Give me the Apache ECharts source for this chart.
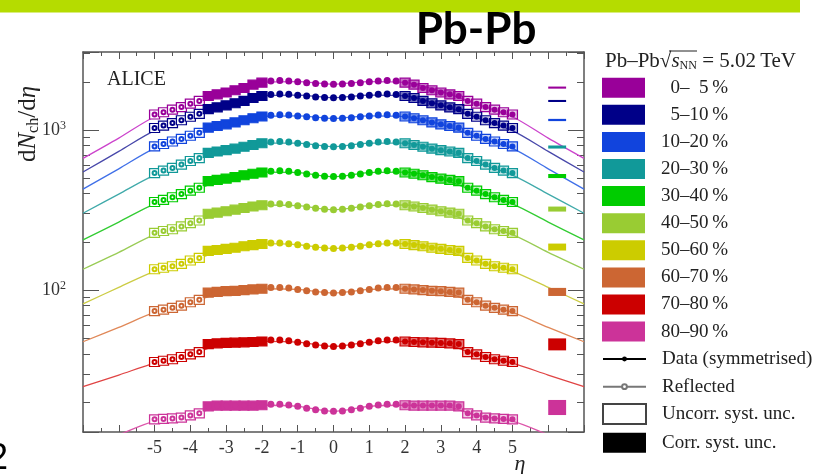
<!DOCTYPE html>
<html><head><meta charset="utf-8">
<script src="https://cdn.jsdelivr.net/npm/echarts@6/dist/echarts.min.js"></script>
<style>html,body{margin:0;padding:0;background:#fff}#c{width:833px;height:474px}</style>
</head><body><div id="c"></div>
<script>
// ---------------- data ----------------
const etaHalf = [0,0.25,0.5,0.75,1,1.25,1.5,1.75,2,2.25,2.5,2.75,3,3.25,3.5,3.75,4,4.25,4.5,4.75,5];
const classLabels = ['  0\u2013  5\u2009%','  5\u201310\u2009%','10\u201320\u2009%','20\u201330\u2009%','30\u201340\u2009%','40\u201350\u2009%','50\u201360\u2009%','60\u201370\u2009%','70\u201380\u2009%','80\u201390\u2009%'];
const classColors = ['#990099','#000088','#1144DD','#119999','#00CC00','#99CC33','#CCCC00','#CC6633','#CC0000','#CC3399'];
const fitColors   = ['#CC44CC','#4848AA','#4070E8','#40AAAA','#33CC33','#99CC55','#CCCC44','#E08858','#E04444','#DD55AA'];

const dn_0_5   = [1930,1935,1950,1975,2000,2025,2035,2020,1975,1920,1830,1770,1715,1670,1630,1520,1460,1390,1340,1290,1250];
const dn_5_10  = [1590,1595,1608,1628,1650,1670,1680,1668,1630,1585,1520,1470,1425,1385,1350,1262,1210,1150,1105,1065,1030];
const dn_10_20 = [1180,1184,1193,1208,1224,1239,1246,1238,1215,1185,1150,1115,1085,1060,1035,960,920,880,848,818,790];
const dn_20_30 = [786,790,798,812,828,842,848,842,826,806,786,765,748,734,720,668,640,608,580,558,538];
const dn_30_40 = [512,515,521,531,542,552,556,553,543,533,522,508,497,488,479,436,418,398,380,366,355];
const dn_40_50 = [318,320,324,330,337,343,346,345,339,333,326,318,311,305,300,272,262,250,240,234,228];
const dn_50_60 = [182,183,185,188,192,195,197,197,194,191,188,184,181,178,176,159,153,146,141,138,135];
const dn_60_70 = [96,96.5,97.5,99,101,103,104,104,102,101,100,99,98.5,97.5,96.5,87,84,80,77.5,75.5,74];
const dn_70_80 = [44.5,44.8,45.4,46.3,47.3,48.3,48.8,48.8,47.8,47.4,47.2,47,46.8,46.5,46,41,39.7,38.2,37,36.2,35.6];
const dn_80_90 = [17.5,17.6,17.9,18.3,18.8,19.2,19.4,19.4,19.1,19.0,19.0,19.0,19.0,19.0,18.8,17.0,16.5,16.0,15.8,15.7,15.6];
const dnData = [dn_0_5,dn_5_10,dn_10_20,dn_20_30,dn_30_40,dn_40_50,dn_50_60,dn_60_70,dn_70_80,dn_80_90];

const fitEta = [0,1,2,3,4,5,6,7];
const fit_0_5   = [1935,2005,1985,1740,1450,1210,890,665];
const fit_5_10  = [1592,1652,1635,1430,1195,990,735,547];
const fit_10_20 = [1180,1226,1212,1085,905,768,572,427];
const fit_20_30 = [786,828,828,750,628,522,398,302];
const fit_30_40 = [512,542,545,497,410,346,266,206];
const fit_40_50 = [318,337,340,311,258,222,172,135];
const fit_50_60 = [182,192,195,181,151,131,104,82];
const fit_60_70 = [96,101,102,98.5,83,72.5,58.5,47.6];
const fit_70_80 = [44.5,47.3,47.8,46.8,39.5,35,29.5,25];
const fit_80_90 = [17.5,18.8,19.1,19,16.5,15.2,12.5,10.2];
const fitData = [fit_0_5,fit_5_10,fit_10_20,fit_20_30,fit_30_40,fit_40_50,fit_50_60,fit_60_70,fit_70_80,fit_80_90];

const normCenter = [1840,1518,1155,783,516,321,186,97.6,46,18.6];
const normUnc    = [0.015,0.015,0.016,0.022,0.029,0.036,0.05,0.058,0.086,0.108];

const xTickLabels = [-5,-4,-3,-2,-1,0,1,2,3,4,5];
const yTickLabels = [100,1000];
const yMinorTicks = [20,30,40,50,60,70,80,90,200,300,400,500,600,700,800,900,2000,3000];

// ---------------- helpers ----------------
function rgba(hex,a){const n=parseInt(hex.slice(1),16);return 'rgba('+((n>>16)&255)+','+((n>>8)&255)+','+(n&255)+','+a+')';}
const SERIF = "'Liberation Serif', 'DejaVu Serif', serif";
const AX = '#555';

const etaPlot = etaHalf.slice(1).reverse().map(e=>-e).concat(etaHalf);
const series = [];
dnData.forEach((vals,i)=>{
  const col = classColors[i];
  const fit = fitData[i];
  const fitPts = [];
  for (let k=fitEta.length-1;k>0;k--) fitPts.push([-fitEta[k], fit[k]]);
  for (let k=0;k<fitEta.length;k++) fitPts.push([fitEta[k], fit[k]]);
  series.push({type:'line', name:'fit'+i, data:fitPts, smooth:0.3, symbol:'none', showSymbol:false,
    lineStyle:{color:fitColors[i], width:1.3}, z:2, silent:true, clip:true});
  const boxes=[], pts=[];
  etaPlot.forEach(eta=>{
    const v = vals[etaHalf.indexOf(Math.abs(eta))];
    if (eta < -3.5) {
      boxes.push({value:[eta,v], itemStyle:{color:'#fff', borderColor:col, borderWidth:1.2, opacity:1}});
      pts.push({value:[eta,v], symbol:'emptyCircle', symbolSize:4, itemStyle:{color:col, borderColor:col, borderWidth:1, opacity:1}});
    } else if (Math.abs(eta) >= 2) {
      let fill = eta < 0 ? col : (eta <= 3.5 ? rgba(col,0.55) : rgba(col,0.22));
      boxes.push({value:[eta,v], itemStyle:{color:fill, borderColor:col, borderWidth:1.2, opacity:1}});
      pts.push({value:[eta,v], symbol:'circle', symbolSize:6});
    } else {
      pts.push({value:[eta,v], symbol:'circle', symbolSize:7});
    }
  });
  series.push({type:'scatter', name:'box'+i, data:boxes, symbol:'rect', symbolSize:[10,9], itemStyle:{opacity:1}, z:3, silent:true});
  series.push({type:'scatter', name:classLabels[i], data:pts, itemStyle:{color:col, opacity:1}, z:4, silent:true});
});
// correlated normalisation uncertainty boxes
series.push({type:'custom', name:'norm', silent:true, z:5,
  data: normCenter.map((c,i)=>[c*(1-normUnc[i]), c*(1+normUnc[i]), i]),
  encode:{x:2, y:[0,1]},
  renderItem:(params,api)=>{
    const lo=api.value(0), hi=api.value(1), i=api.value(2);
    const p1=api.coord([6.0,hi]), p2=api.coord([6.5,lo]);
    return {type:'rect', shape:{x:p1[0], y:p1[1], width:p2[0]-p1[0], height:Math.max(p2[1]-p1[1],2)}, style:{fill:classColors[i]}};
  }});
// legend-only series
series.push({type:'line', name:'Data (symmetrised)', data:[], symbol:'circle', itemStyle:{color:'#000'}, lineStyle:{color:'#000', width:1}});
series.push({type:'line', name:'Reflected', data:[], symbol:'emptyCircle', itemStyle:{color:'#777'}, lineStyle:{color:'#777', width:1}});
series.push({type:'scatter', name:'Uncorr. syst. unc.', data:[], itemStyle:{color:'#fff', borderColor:'#444', borderWidth:1, opacity:1}});
series.push({type:'scatter', name:'Corr. syst. unc.', data:[], itemStyle:{color:'#000', opacity:1}});

const legendText = {fontFamily:SERIF, fontSize:19, color:'#222', lineHeight:20, padding:[0,0,0,11]};
const legendBase = {orient:'vertical', left:602, itemWidth:43, padding:0, selectedMode:false, textStyle:legendText};

const near = (v,arr)=>arr.some(t=>Math.abs(v-t)/Math.abs(t||1)<1e-6);
const xAxisBase = {type:'value', min:-7, max:7, interval:1, splitLine:{show:false},
  axisLine:{show:true, onZero:false, lineStyle:{color:AX, width:1.5}},
  axisTick:{show:true, inside:true, length:7, lineStyle:{color:AX, width:1}},
  minorTick:{show:true, splitNumber:2, length:4, lineStyle:{color:AX, width:1}}, minorSplitLine:{show:false}};
const yLog = {type:'log', logBase:10, min:13, max:3070, splitLine:{show:false}};

const option = {
  animation:false,
  backgroundColor:'#fff',
  grid:{left:83, right:249, top:52, bottom:42, containLabel:false, outerBoundsMode:'none'},
  xAxis:[
    Object.assign({}, xAxisBase, {position:'bottom',
      axisLabel:{show:true, formatter:v=>near(v,xTickLabels)?String(v):'', fontFamily:SERIF, fontSize:18, color:'#333', margin:7}}),
    Object.assign({}, xAxisBase, {position:'top', axisLabel:{show:false}})
  ],
  yAxis:[
    Object.assign({}, yLog, {position:'left', axisLine:{show:true, onZero:false, lineStyle:{color:AX, width:1.5}},
      axisTick:{show:true, inside:true, length:16, lineStyle:{color:AX}},
      axisLabel:{show:true, margin:17, formatter:v=>near(v,yTickLabels)?'{b|10}{s|'+Math.round(Math.log10(v))+'}':'',
        rich:{b:{fontFamily:SERIF, fontSize:18, color:'#333', lineHeight:20}, s:{fontFamily:SERIF, fontSize:12, color:'#333', verticalAlign:'top', lineHeight:12}}}}),
    Object.assign({}, yLog, {position:'left', axisLine:{show:false, onZero:false}, axisLabel:{show:false},
      axisTick:{show:true, inside:true, length:7, customValues:yMinorTicks, lineStyle:{color:AX}}}),
    Object.assign({}, yLog, {position:'right', axisLine:{show:true, onZero:false, lineStyle:{color:AX, width:1.5}}, axisLabel:{show:false},
      axisTick:{show:true, inside:true, length:16, lineStyle:{color:AX}}}),
    Object.assign({}, yLog, {position:'right', axisLine:{show:false, onZero:false}, axisLabel:{show:false},
      axisTick:{show:true, inside:true, length:7, customValues:yMinorTicks, lineStyle:{color:AX}}})
  ],
  legend:[
    Object.assign({}, legendBase, {top:77.7, itemHeight:20, itemGap:7.1, data:classLabels.map(n=>({name:n, icon:'rect'}))}),
    Object.assign({}, legendBase, {top:349, itemHeight:6, itemGap:7.7, data:['Data (symmetrised)','Reflected']}),
    Object.assign({}, legendBase, {top:403, itemHeight:20, itemGap:7.7, data:[{name:'Uncorr. syst. unc.', icon:'rect'},{name:'Corr. syst. unc.', icon:'rect'}]})
  ],
  graphic:[
    {type:'rect', shape:{x:0, y:0, width:800, height:12.5}, style:{fill:'#B5DC00'}, silent:true},
    {type:'text', x:476, y:30, style:{text:'Pb-Pb', font:"bold 44px Lato, sans-serif", fill:'#000', align:'center', verticalAlign:'middle'}},
    {type:'text', x:107, y:80, style:{text:'ALICE', fontFamily:SERIF, fontSize:20, fill:'#222', align:'left', verticalAlign:'middle'}},
    {type:'text', x:28, y:124, rotation:Math.PI/2, style:{text:'{u|d}{i|N}{sub|ch}{u|/d}{i|\u03b7}', align:'center', verticalAlign:'middle',
      rich:{u:{fontFamily:SERIF, fontSize:25, fill:'#222', lineHeight:28}, i:{fontFamily:SERIF, fontStyle:'italic', fontSize:25, fill:'#222', lineHeight:28},
            sub:{fontFamily:SERIF, fontSize:16, fill:'#222', verticalAlign:'bottom', lineHeight:16}}}},
    {type:'text', x:520, y:464, style:{text:'\u03b7', fontFamily:SERIF, fontStyle:'italic', fontSize:22, fill:'#222', align:'center', verticalAlign:'middle'}},
    {type:'text', x:605, y:61, style:{text:'{a|Pb\u2013Pb}{r|\u221a}{s|s}{n|NN}{a| = 5.02\u2009TeV}', align:'left', verticalAlign:'middle',
      rich:{a:{fontFamily:SERIF, fontSize:21, fill:'#222', lineHeight:22}, r:{fontFamily:SERIF, fontSize:21, fill:'#222', lineHeight:22},
            s:{fontFamily:SERIF, fontStyle:'italic', fontSize:21, fill:'#222', lineHeight:22}, n:{fontFamily:SERIF, fontSize:12, fill:'#222', verticalAlign:'bottom', lineHeight:14}}}},
    {type:'line', shape:{x1:669, y1:51, x2:697, y2:51}, style:{stroke:'#222', lineWidth:1}},
    {type:'text', x:-12, y:441, style:{text:'2', font:"36px 'Liberation Sans', sans-serif", fill:'#000', align:'left', verticalAlign:'top'}}
  ],
  series:series
};
const chart = echarts.init(document.getElementById('c'), null, {renderer:'canvas'});
chart.setOption(option);
</script></body></html>
